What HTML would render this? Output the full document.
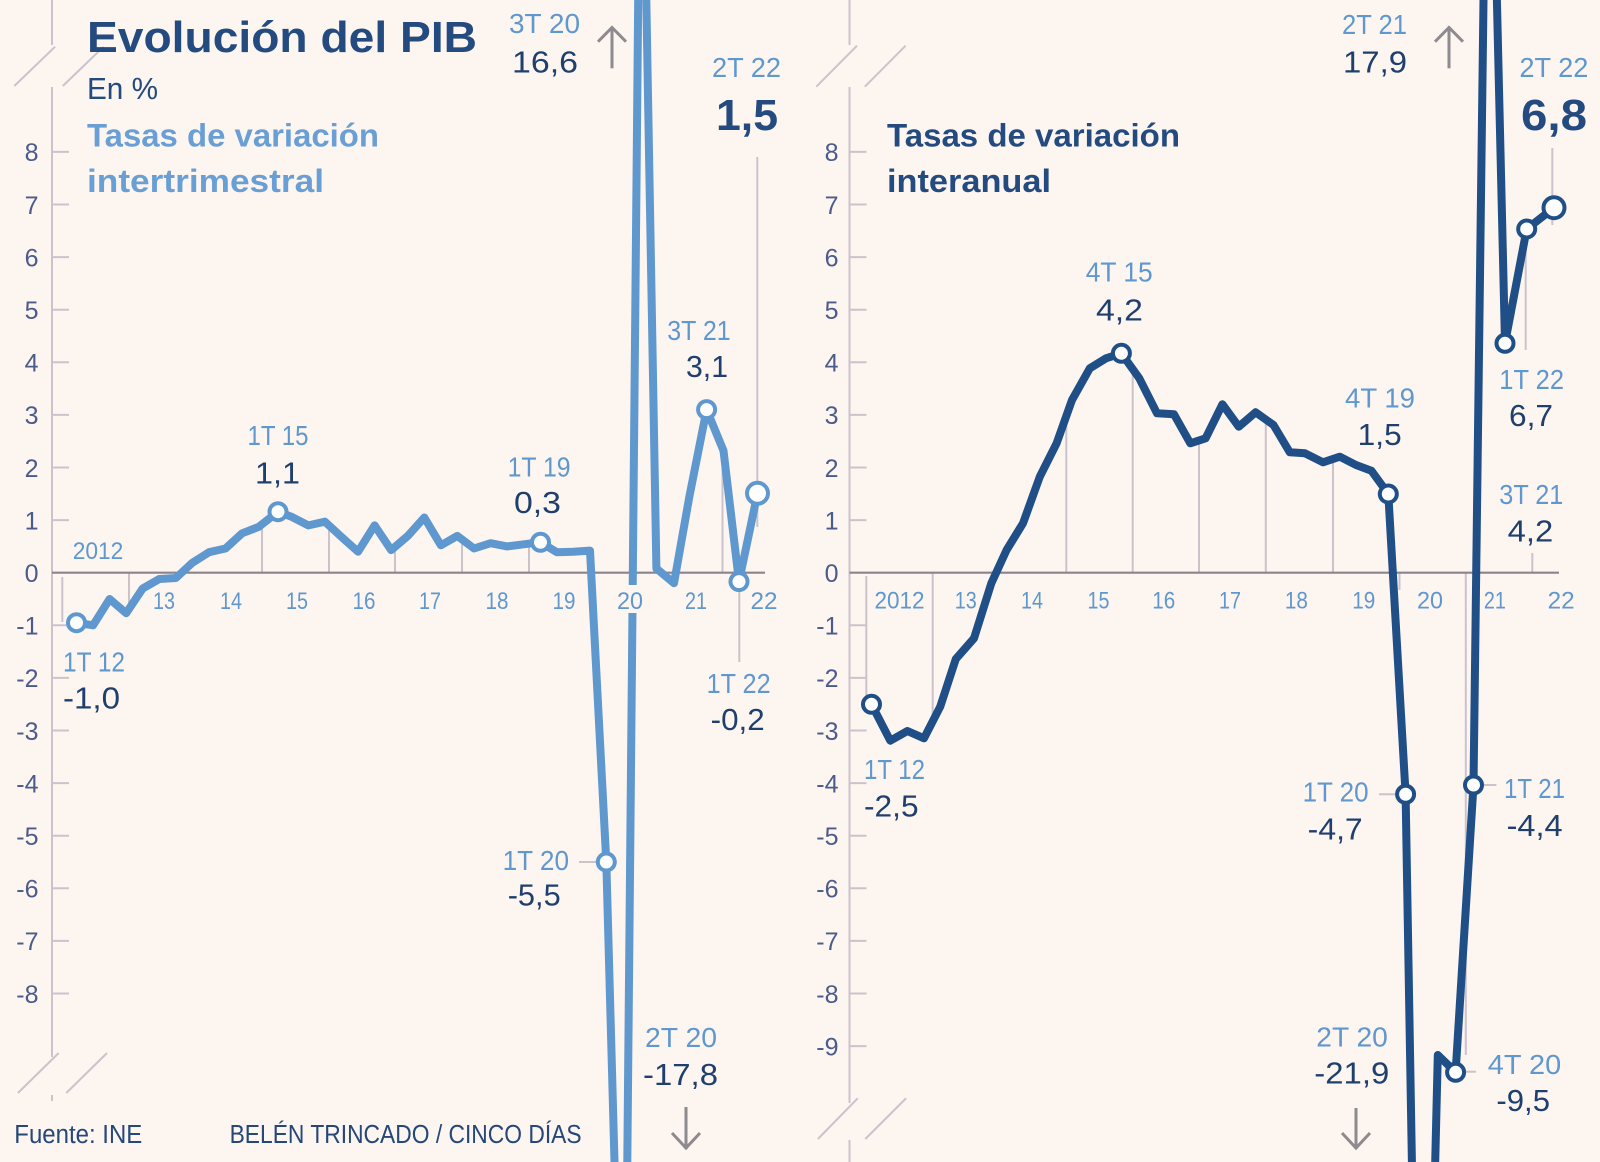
<!DOCTYPE html>
<html><head><meta charset="utf-8"><style>
html,body{margin:0;padding:0;background:#fdf5ef;overflow:hidden;width:1600px;height:1162px;}
#wrap{width:1600px;height:1162px;overflow:hidden;position:relative;}
svg{display:block;overflow:hidden;}
text{font-family:"Liberation Sans",sans-serif;}
</style></head><body><div id="wrap">
<svg width="1600" height="1162" viewBox="0 0 1600 1162" xmlns="http://www.w3.org/2000/svg">
<rect width="1600" height="1162" fill="#fdf5ef"/>

<!-- ===== LEFT CHART ===== -->
<g stroke="#cbc3cc" stroke-width="2" fill="none">
  <line x1="62.3" y1="577" x2="62.3" y2="622"/>
  <line x1="129" y1="573" x2="129" y2="613"/>
  <line x1="262" y1="573" x2="262" y2="526"/>
  <line x1="329" y1="573" x2="329" y2="525"/>
  <line x1="395" y1="573" x2="395" y2="547"/>
  <line x1="462" y1="573" x2="462" y2="540"/>
  <line x1="529" y1="573" x2="529" y2="544"/>
  <line x1="722.5" y1="573" x2="722.5" y2="452"/>
  <line x1="757.3" y1="157" x2="757.3" y2="527"/>
  <line x1="739.3" y1="582" x2="739.3" y2="662"/>
  <line x1="579" y1="862" x2="597" y2="862"/>
  <line x1="52" y1="0" x2="52" y2="45"/>
  <line x1="52" y1="87" x2="52" y2="1057"/>
  <line x1="52" y1="1095" x2="52" y2="1101"/>
  <line x1="14.3" y1="86" x2="55.1" y2="46.7"/>
  <line x1="62.8" y1="86" x2="103.6" y2="46.7"/>
  <line x1="17.9" y1="1093" x2="58.7" y2="1053"/>
  <line x1="66.3" y1="1093" x2="107" y2="1053"/>
  <path d="M52 151.9H69M52 204.5H69M52 257.1H69M52 309.7H69M52 362.3H69M52 414.9H69M52 467.5H69M52 520.1H69M52 625.3H69M52 677.9H69M52 730.5H69M52 783.1H69M52 835.7H69M52 888.3H69M52 940.9H69M52 993.5H69"/>
</g>
<line x1="52" y1="572.7" x2="765" y2="572.7" stroke="#8b838d" stroke-width="2.2"/>

<g font-size="25" fill="#4b5b8b" text-anchor="end">
  <text x="38.5" y="161.2">8</text><text x="38.5" y="213.8">7</text><text x="38.5" y="266.4">6</text>
  <text x="38.5" y="319">5</text><text x="38.5" y="371.6">4</text><text x="38.5" y="424.2">3</text>
  <text x="38.5" y="476.8">2</text><text x="38.5" y="529.4">1</text><text x="38.5" y="582">0</text>
  <text x="38.5" y="634.6">-1</text><text x="38.5" y="687.2">-2</text><text x="38.5" y="739.8">-3</text>
  <text x="38.5" y="792.4">-4</text><text x="38.5" y="845">-5</text><text x="38.5" y="897.6">-6</text>
  <text x="38.5" y="950.2">-7</text><text x="38.5" y="1002.8">-8</text>
</g>

<g fill="none" stroke="#5f97cf" stroke-width="8" stroke-linejoin="round">
<polyline stroke-linecap="round"
 points="76.5,622.7 93.1,625.3 109.6,599 126.2,613.2 142.7,588.5 159.3,579 175.9,578 192.4,562.7 209,552.2 225.5,548.5 242.1,533.3 258.7,526.9 278,511.7 291.8,516.9 308.4,525.4 324.9,521.7 341.5,536.9 358,551.7 374.6,525.4 391.2,550.1 407.8,535.9 424.3,517.5 440.9,545.3 457.4,535.9 474,548.5 490.6,543.2 507.1,546.4 523.7,544.3 540.3,542.2 556.8,552.2 573.4,551.7 590,550.6 606.3,862 614.5,1162"/>
<polyline stroke-linecap="butt" points="627.3,1162 638.2,0"/>
<polyline stroke-linecap="round"
 points="646.3,0 656.4,568.5 674,583.2 689.4,496.4 706.6,409.6 723.5,450.7 739,581.6 757.5,493.3"/>
</g>
<rect x="615" y="585" width="31" height="28" fill="#fdf5ef"/>

<g fill="#fff" stroke="#5f97cf" stroke-width="4">
  <circle cx="76.5" cy="622.7" r="8.5"/>
  <circle cx="278" cy="511.7" r="8.5"/>
  <circle cx="540.5" cy="542.3" r="8.5"/>
  <circle cx="606.3" cy="862" r="8.5"/>
  <circle cx="706.6" cy="409.6" r="8.5"/>
  <circle cx="739" cy="581.6" r="8.5"/>
  <circle cx="757.5" cy="493.3" r="10.5"/>
</g>

<g font-size="24" fill="#5f97cf" text-anchor="middle">
  <text x="98" y="559" textLength="50.6" lengthAdjust="spacingAndGlyphs">2012</text>
  <text x="164" y="609" textLength="22" lengthAdjust="spacingAndGlyphs">13</text>
  <text x="231" y="609" textLength="22" lengthAdjust="spacingAndGlyphs">14</text>
  <text x="297" y="609" textLength="22" lengthAdjust="spacingAndGlyphs">15</text>
  <text x="364" y="609" textLength="23" lengthAdjust="spacingAndGlyphs">16</text>
  <text x="430" y="609" textLength="22" lengthAdjust="spacingAndGlyphs">17</text>
  <text x="497" y="609" textLength="23" lengthAdjust="spacingAndGlyphs">18</text>
  <text x="564" y="609" textLength="23" lengthAdjust="spacingAndGlyphs">19</text>
  <text x="630" y="609" textLength="26" lengthAdjust="spacingAndGlyphs">20</text>
  <text x="696" y="609" textLength="22" lengthAdjust="spacingAndGlyphs">21</text>
  <text x="764" y="609" textLength="27" lengthAdjust="spacingAndGlyphs">22</text>
</g>

<text x="87" y="52" font-size="44" font-weight="bold" fill="#234b80" textLength="390" lengthAdjust="spacingAndGlyphs">Evolución del PIB</text>
<text x="87" y="99" font-size="31" fill="#234b80" textLength="71" lengthAdjust="spacingAndGlyphs">En %</text>
<text x="87" y="146.5" font-size="32" font-weight="bold" fill="#6a9fd6" textLength="292" lengthAdjust="spacingAndGlyphs">Tasas de variación</text>
<text x="87" y="192" font-size="32" font-weight="bold" fill="#6a9fd6" textLength="237" lengthAdjust="spacingAndGlyphs">intertrimestral</text>

<g font-size="28" fill="#5f97cf">
  <text x="509" y="33" textLength="71" lengthAdjust="spacingAndGlyphs">3T 20</text>
  <text x="712" y="77" textLength="69" lengthAdjust="spacingAndGlyphs">2T 22</text>
  <text x="247.5" y="445" textLength="61" lengthAdjust="spacingAndGlyphs">1T 15</text>
  <text x="507.6" y="476.5" textLength="63" lengthAdjust="spacingAndGlyphs">1T 19</text>
  <text x="667.3" y="340" textLength="63.4" lengthAdjust="spacingAndGlyphs">3T 21</text>
  <text x="63" y="671.5" textLength="62" lengthAdjust="spacingAndGlyphs">1T 12</text>
  <text x="502.6" y="870" textLength="66.4" lengthAdjust="spacingAndGlyphs">1T 20</text>
  <text x="645" y="1047" textLength="72" lengthAdjust="spacingAndGlyphs">2T 20</text>
  <text x="706.6" y="693" textLength="64" lengthAdjust="spacingAndGlyphs">1T 22</text>
</g>
<g font-size="31" fill="#1f3f6e">
  <text x="512" y="72.5" textLength="66" lengthAdjust="spacingAndGlyphs">16,6</text>
  <text x="255" y="483.3" textLength="45" lengthAdjust="spacingAndGlyphs">1,1</text>
  <text x="514" y="513" textLength="47" lengthAdjust="spacingAndGlyphs">0,3</text>
  <text x="686" y="377" textLength="42" lengthAdjust="spacingAndGlyphs">3,1</text>
  <text x="63" y="708.3" textLength="57" lengthAdjust="spacingAndGlyphs">-1,0</text>
  <text x="507.7" y="905.5" textLength="53" lengthAdjust="spacingAndGlyphs">-5,5</text>
  <text x="643" y="1085" textLength="75" lengthAdjust="spacingAndGlyphs">-17,8</text>
  <text x="710.7" y="730" textLength="54" lengthAdjust="spacingAndGlyphs">-0,2</text>
</g>
<text x="716" y="130" font-size="44" font-weight="bold" fill="#234b80" textLength="62" lengthAdjust="spacingAndGlyphs">1,5</text>

<g stroke="#8d8a90" stroke-width="3" fill="none">
  <line x1="612" y1="28" x2="612" y2="68.3"/>
  <polyline points="598,41.7 612,27.5 626,41.7"/>
  <line x1="686" y1="1107" x2="686" y2="1149"/>
  <polyline points="672,1133 686,1148 700,1133"/>
  <line x1="1449" y1="28" x2="1449" y2="68.3"/>
  <polyline points="1435,41.7 1449,27.5 1463,41.7"/>
  <line x1="1356" y1="1108" x2="1356" y2="1149"/>
  <polyline points="1342,1133 1356,1148 1370,1133"/>
</g>

<text x="14.3" y="1143" font-size="25.5" fill="#25477a" textLength="128" lengthAdjust="spacingAndGlyphs">Fuente: INE</text>
<text x="229.6" y="1143" font-size="25.5" fill="#25477a" textLength="352" lengthAdjust="spacingAndGlyphs">BELÉN TRINCADO / CINCO DÍAS</text>

<!-- ===== RIGHT CHART ===== -->
<g stroke="#cbc3cc" stroke-width="2" fill="none">
  <line x1="866.3" y1="576" x2="866.3" y2="700"/>
  <line x1="932.7" y1="573" x2="932.7" y2="722"/>
  <line x1="1066.3" y1="573" x2="1066.3" y2="408"/>
  <line x1="1132.7" y1="573" x2="1132.7" y2="370"/>
  <line x1="1199" y1="573" x2="1199" y2="440"/>
  <line x1="1265.8" y1="573" x2="1265.8" y2="420"/>
  <line x1="1333" y1="573" x2="1333" y2="459"/>
  <line x1="1399.5" y1="573" x2="1399.5" y2="590"/>
  <line x1="1465.8" y1="573" x2="1465.8" y2="1055"/>
  <line x1="1532.3" y1="553" x2="1532.3" y2="573"/>
  <line x1="1552.3" y1="148" x2="1552.3" y2="225"/>
  <line x1="1525.7" y1="246.7" x2="1525.7" y2="350"/>
  <line x1="1379" y1="794.3" x2="1399.5" y2="794.3"/>
  <line x1="1483.7" y1="785" x2="1496.4" y2="785"/>
  <line x1="1463" y1="1071.7" x2="1476" y2="1071.7"/>
  <line x1="849.5" y1="0" x2="849.5" y2="45"/>
  <line x1="849.5" y1="87" x2="849.5" y2="1103"/>
  <line x1="849.5" y1="1140" x2="849.5" y2="1162"/>
  <line x1="816.3" y1="86.7" x2="857" y2="45.7"/>
  <line x1="864.8" y1="86.7" x2="905.6" y2="45.7"/>
  <line x1="817.9" y1="1139" x2="857.7" y2="1098.3"/>
  <line x1="865.3" y1="1139" x2="906" y2="1098.3"/>
  <path d="M849.5 151.9H866.5M849.5 204.5H866.5M849.5 257.1H866.5M849.5 309.7H866.5M849.5 362.3H866.5M849.5 414.9H866.5M849.5 467.5H866.5M849.5 520.1H866.5M849.5 625.3H866.5M849.5 677.9H866.5M849.5 730.5H866.5M849.5 783.1H866.5M849.5 835.7H866.5M849.5 888.3H866.5M849.5 940.9H866.5M849.5 993.5H866.5M849.5 1046.1H866.5"/>
</g>
<line x1="849.5" y1="572.7" x2="1559" y2="572.7" stroke="#8b838d" stroke-width="2.2"/>

<g font-size="25" fill="#4b5b8b" text-anchor="end">
  <text x="838.5" y="161.2">8</text><text x="838.5" y="213.8">7</text><text x="838.5" y="266.4">6</text>
  <text x="838.5" y="319">5</text><text x="838.5" y="371.6">4</text><text x="838.5" y="424.2">3</text>
  <text x="838.5" y="476.8">2</text><text x="838.5" y="529.4">1</text><text x="838.5" y="582">0</text>
  <text x="838.5" y="634.6">-1</text><text x="838.5" y="687.2">-2</text><text x="838.5" y="739.8">-3</text>
  <text x="838.5" y="792.4">-4</text><text x="838.5" y="845">-5</text><text x="838.5" y="897.6">-6</text>
  <text x="838.5" y="950.2">-7</text><text x="838.5" y="1002.8">-8</text><text x="838.5" y="1055.4">-9</text>
</g>

<g fill="none" stroke="#1f4f86" stroke-width="8" stroke-linejoin="round">
<polyline stroke-linecap="round"
 points="871.5,704.3 890.3,740.7 907.4,731 924,738.3 940.2,706.7 955.8,659 974,638.3 991.3,583.3 1006.6,550 1023,523.3 1039.8,476.7 1056.6,443.3 1072,400 1089.8,368.3 1106,358.3 1121.4,353.3 1139.3,378.3 1157,413.3 1174,414.3 1190.3,443.3 1205.6,438.3 1222.4,404.3 1238.8,426.7 1255.6,412.3 1273.5,425 1289.8,452.3 1305,453.3 1323,462.3 1339.8,456.7 1356,465 1371.4,470.7 1388.3,494 1405.6,794.3 1411.9,1162"/>
<polyline stroke-linecap="butt" points="1435.2,1162 1437.8,1055 1455.6,1072.3 1473.5,785 1483.5,0"/>
<polyline stroke-linecap="round" points="1496.9,0 1505,343.3 1526.7,229 1554,207.7"/>
</g>

<g fill="#fff" stroke="#1f4f86" stroke-width="4">
  <circle cx="871.5" cy="704.3" r="8.5"/>
  <circle cx="1121.4" cy="353.3" r="8.5"/>
  <circle cx="1388.3" cy="494" r="8.5"/>
  <circle cx="1405.6" cy="794.3" r="8.5"/>
  <circle cx="1455.6" cy="1072.3" r="8.5"/>
  <circle cx="1473.5" cy="785" r="8.5"/>
  <circle cx="1505" cy="343.3" r="8.5"/>
  <circle cx="1526.7" cy="229" r="8.5"/>
  <circle cx="1554" cy="207.7" r="10.5"/>
</g>

<g font-size="24" fill="#5f97cf" text-anchor="middle">
  <text x="899.5" y="608.5" textLength="50" lengthAdjust="spacingAndGlyphs">2012</text>
  <text x="965.8" y="608.5" textLength="22" lengthAdjust="spacingAndGlyphs">13</text>
  <text x="1032" y="608.5" textLength="22" lengthAdjust="spacingAndGlyphs">14</text>
  <text x="1098.5" y="608.5" textLength="22" lengthAdjust="spacingAndGlyphs">15</text>
  <text x="1163.8" y="608.5" textLength="23" lengthAdjust="spacingAndGlyphs">16</text>
  <text x="1230" y="608.5" textLength="22" lengthAdjust="spacingAndGlyphs">17</text>
  <text x="1296.4" y="608.5" textLength="23" lengthAdjust="spacingAndGlyphs">18</text>
  <text x="1363.8" y="608.5" textLength="23" lengthAdjust="spacingAndGlyphs">19</text>
  <text x="1430" y="608.5" textLength="26" lengthAdjust="spacingAndGlyphs">20</text>
  <text x="1494.9" y="608.5" textLength="22" lengthAdjust="spacingAndGlyphs">21</text>
  <text x="1561.2" y="608.5" textLength="27" lengthAdjust="spacingAndGlyphs">22</text>
</g>

<text x="887" y="146.5" font-size="32" font-weight="bold" fill="#234b80" textLength="293" lengthAdjust="spacingAndGlyphs">Tasas de variación</text>
<text x="887" y="192" font-size="32" font-weight="bold" fill="#234b80" textLength="164" lengthAdjust="spacingAndGlyphs">interanual</text>

<g font-size="28" fill="#5f97cf">
  <text x="1342" y="34" textLength="65" lengthAdjust="spacingAndGlyphs">2T 21</text>
  <text x="1519.4" y="77" textLength="69" lengthAdjust="spacingAndGlyphs">2T 22</text>
  <text x="1085.7" y="281.5" textLength="67" lengthAdjust="spacingAndGlyphs">4T 15</text>
  <text x="1345" y="407.3" textLength="70" lengthAdjust="spacingAndGlyphs">4T 19</text>
  <text x="1499.3" y="389" textLength="64.7" lengthAdjust="spacingAndGlyphs">1T 22</text>
  <text x="1499.3" y="504" textLength="64" lengthAdjust="spacingAndGlyphs">3T 21</text>
  <text x="864" y="779" textLength="61" lengthAdjust="spacingAndGlyphs">1T 12</text>
  <text x="1302.6" y="801.5" textLength="66" lengthAdjust="spacingAndGlyphs">1T 20</text>
  <text x="1504" y="798" textLength="61" lengthAdjust="spacingAndGlyphs">1T 21</text>
  <text x="1316.3" y="1046.5" textLength="71.5" lengthAdjust="spacingAndGlyphs">2T 20</text>
  <text x="1487.8" y="1074" textLength="73.4" lengthAdjust="spacingAndGlyphs">4T 20</text>
</g>
<g font-size="31" fill="#1f3f6e">
  <text x="1343" y="72.5" textLength="64" lengthAdjust="spacingAndGlyphs">17,9</text>
  <text x="1096" y="320.7" textLength="47" lengthAdjust="spacingAndGlyphs">4,2</text>
  <text x="1357.7" y="445" textLength="44" lengthAdjust="spacingAndGlyphs">1,5</text>
  <text x="1509" y="426" textLength="44" lengthAdjust="spacingAndGlyphs">6,7</text>
  <text x="1507.7" y="541.7" textLength="45.6" lengthAdjust="spacingAndGlyphs">4,2</text>
  <text x="864" y="816.7" textLength="54.6" lengthAdjust="spacingAndGlyphs">-2,5</text>
  <text x="1307.7" y="839.3" textLength="55" lengthAdjust="spacingAndGlyphs">-4,7</text>
  <text x="1506.6" y="836" textLength="56" lengthAdjust="spacingAndGlyphs">-4,4</text>
  <text x="1314.3" y="1083.3" textLength="75" lengthAdjust="spacingAndGlyphs">-21,9</text>
  <text x="1496.4" y="1111" textLength="53.6" lengthAdjust="spacingAndGlyphs">-9,5</text>
</g>
<text x="1521" y="130" font-size="44" font-weight="bold" fill="#234b80" textLength="66" lengthAdjust="spacingAndGlyphs">6,8</text>
</svg>
</div></body></html>
